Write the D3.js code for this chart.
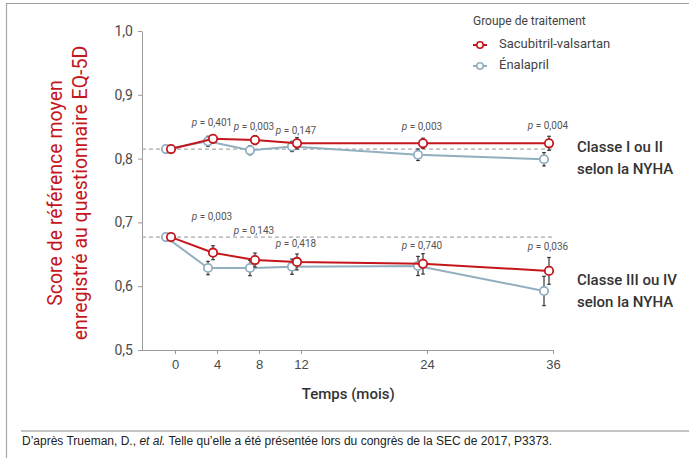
<!DOCTYPE html>
<html>
<head>
<meta charset="utf-8">
<script src="https://cdn.jsdelivr.net/npm/d3@7/dist/d3.min.js"></script>
<style>
  html, body { margin: 0; padding: 0; background: #fff; }
  svg { display: block; font-family: Roboto, "DejaVu Sans", sans-serif; }
</style>
</head>
<body>
<svg id="chart" width="689" height="458"></svg>
<script>
// ---- Data ----
const months = [0, 4, 8, 12, 24, 36];
const xTicks = [0, 4, 8, 12, 24, 36];
const yTicks = [0.5, 0.6, 0.7, 0.8, 0.9, 1.0];

const seriesNames = ["Sacubitril-valsartan", "Énalapril"];

const classI_sac     = [0.815, 0.831, 0.829, 0.824, 0.824, 0.824];
const classI_sacErr  = [0.002, 0.006, 0.007, 0.009, 0.008, 0.011];
const classI_ena     = [0.815, 0.827, 0.813, 0.819, 0.806, 0.799];
const classI_enaErr  = [0.002, 0.008, 0.007, 0.008, 0.009, 0.0105];

const classIII_sac    = [0.677, 0.6525, 0.641, 0.638, 0.635, 0.624];
const classIII_sacErr = [0.002, 0.011, 0.011, 0.0125, 0.016, 0.021];
const classIII_ena    = [0.677, 0.6285, 0.6285, 0.6306, 0.6317, 0.5925];
const classIII_enaErr = [0.002, 0.0105, 0.012, 0.012, 0.015, 0.023];

const baselineI = 0.815;
const baselineIII = 0.677;

const pMonths = [4, 8, 12, 24, 36];
const pI = ["0,401", "0,003", "0,147", "0,003", "0,004"];
const pI_at = [0.856, 0.8495, 0.843, 0.850, 0.851];
const pIII = ["0,003", "0,143", "0,418", "0,740", "0,036"];
const pIII_at = [0.709, 0.687, 0.666, 0.6635, 0.662];

const groupLabels = [["Classe I ou II", "selon la NYHA"], ["Classe III ou IV", "selon la NYHA"]];
const yTitleLines = ["Score de référence moyen", "enregistré au questionnaire EQ-5D"];

// ---- Styles ----
const RED = "#c4161c";
const BLUE = "#92afbf";
const AXIS = "#9a9a9a";

const svg = d3.select("#chart");

// frame
svg.append("line").attr("x1", 6.5).attr("x2", 6.5).attr("y1", 3).attr("y2", 458).attr("stroke", "#a8a8a8").attr("stroke-width", 1.2);
svg.append("line").attr("x1", 6).attr("x2", 689).attr("y1", 3.5).attr("y2", 3.5).attr("stroke", "#a0a0a0").attr("stroke-width", 1.2);

const x = d3.scaleLinear().domain([-3.5, 36]).range([138.25, 553]);
const y = d3.scaleLinear().domain([0.5, 1.0]).range([350, 31]);
const yAxisX = 142;

// y axis
const yAxis = svg.append("g").attr("transform", `translate(${yAxisX},0)`)
  .call(d3.axisLeft(y).tickValues(yTicks).tickSize(4).tickSizeOuter(0).tickPadding(5)
    .tickFormat(d => d3.format(".1f")(d).replace(".", ",")));
yAxis.select(".domain").attr("stroke", AXIS);
yAxis.selectAll(".tick line").attr("stroke", AXIS);
yAxis.selectAll(".tick text").attr("fill", "#4a4a4a").attr("font-size", 14)
  .attr("font-family", "Roboto, sans-serif");

// x axis
const xAxis = svg.append("g").attr("transform", `translate(0,${y(0.5)})`)
  .call(d3.axisBottom(x).tickValues(xTicks).tickSize(4).tickSizeOuter(0).tickPadding(6));
xAxis.select(".domain").attr("stroke", AXIS);
xAxis.selectAll(".tick line").attr("stroke", AXIS);
xAxis.selectAll(".tick text").attr("fill", "#4a4a4a").attr("font-size", 13);

// axis titles
svg.append("text").attr("x", x(16.5)).attr("y", 399).attr("text-anchor", "middle")
  .attr("font-size", 15).attr("font-weight", 500).attr("fill", "#333").text("Temps (mois)");

const yTitleX = [62, 87];
yTitleLines.forEach((l, i) => {
  svg.append("text").attr("transform", `translate(${yTitleX[i]},193) rotate(-90)`)
    .attr("text-anchor", "middle").attr("fill", RED).attr("font-size", 19.5).text(l);
});

// baselines
[baselineI, baselineIII].forEach(b => {
  svg.append("line").attr("x1", yAxisX).attr("x2", x(36) + 1).attr("y1", y(b)).attr("y2", y(b))
    .attr("stroke", "#aaa").attr("stroke-width", 1.2).attr("stroke-dasharray", "4,3");
});

const dodge = [-4, -9];
const groups = [
  { vals: [classI_sac, classI_ena], errs: [classI_sacErr, classI_enaErr] },
  { vals: [classIII_sac, classIII_ena], errs: [classIII_sacErr, classIII_enaErr] }
];
const colors = [RED, BLUE];

groups.forEach(g => {
  [1, 0].forEach(si => {
    const data = months.map((m, i) => ({ m, v: g.vals[si][i], e: g.errs[si][i] }));
    const gx = d => x(d.m) + dodge[si];
    svg.append("path").datum(data)
      .attr("d", d3.line().x(gx).y(d => y(d.v)))
      .attr("fill", "none").attr("stroke", colors[si]).attr("stroke-width", 2);
    const eb = svg.append("g");
    data.forEach(d => {
      if (d.e < 0.004) return;
      const cx = gx(d);
      eb.append("line").attr("x1", cx).attr("x2", cx).attr("y1", y(d.v + d.e)).attr("y2", y(d.v - d.e))
        .attr("stroke", "#333").attr("stroke-width", 1.2);
      [d.v + d.e, d.v - d.e].forEach(v => eb.append("line").attr("x1", cx - 1.8).attr("x2", cx + 1.8)
        .attr("y1", y(v)).attr("y2", y(v)).attr("stroke", "#333").attr("stroke-width", 1.2));
    });
    svg.append("g").selectAll("circle").data(data).join("circle")
      .attr("cx", gx).attr("cy", d => y(d.v)).attr("r", 4.2)
      .attr("fill", "#fff").attr("stroke", colors[si]).attr("stroke-width", 1.8);
  });
});

// p-value labels
function pLabels(labels, ats) {
  labels.forEach((p, i) => {
    const t = svg.append("text").attr("x", x(pMonths[i]) - 5).attr("y", y(ats[i]))
      .attr("text-anchor", "middle").attr("dominant-baseline", "middle")
      .attr("font-size", 10).attr("fill", "#555");
    t.append("tspan").attr("font-style", "italic").text("p");
    t.append("tspan").text(" = " + p);
  });
}
pLabels(pI, pI_at);
pLabels(pIII, pIII_at);

// group labels
const glY = [[148, 170], [281, 303]];
groupLabels.forEach((lines, gi) => {
  lines.forEach((l, li) => {
    svg.append("text").attr("x", 577).attr("y", glY[gi][li]).attr("dominant-baseline", "middle")
      .attr("font-size", 15).attr("font-weight", 500).attr("fill", "#333").text(l);
  });
});

// legend
svg.append("text").attr("x", 473).attr("y", 22).attr("dominant-baseline", "middle")
  .attr("font-size", 12).attr("fill", "#444").text("Groupe de traitement");
seriesNames.forEach((n, i) => {
  const ly = [45, 66][i];
  svg.append("line").attr("x1", 473).attr("x2", 487).attr("y1", ly).attr("y2", ly)
    .attr("stroke", colors[i]).attr("stroke-width", 2);
  svg.append("circle").attr("cx", 480).attr("cy", ly).attr("r", 3.2)
    .attr("fill", "#fff").attr("stroke", colors[i]).attr("stroke-width", 1.6);
  svg.append("text").attr("x", 499).attr("y", ly).attr("dominant-baseline", "middle")
    .attr("font-size", 13).attr("fill", "#444").text(n);
});

// footer
svg.append("line").attr("x1", 21).attr("x2", 689).attr("y1", 431).attr("y2", 431)
  .attr("stroke", "#b0b0b0").attr("stroke-width", 1.5);
const foot = svg.append("text").attr("x", 22).attr("y", 445)
  .attr("font-family", "'Liberation Sans', Arial, sans-serif").attr("font-size", 12).attr("fill", "#222");
foot.append("tspan").text("D’après Trueman, D., ");
foot.append("tspan").attr("font-style", "italic").text("et al.");
foot.append("tspan").text(" Telle qu’elle a été présentée lors du congrès de la SEC de 2017, P3373.");
</script>
</body>
</html>
